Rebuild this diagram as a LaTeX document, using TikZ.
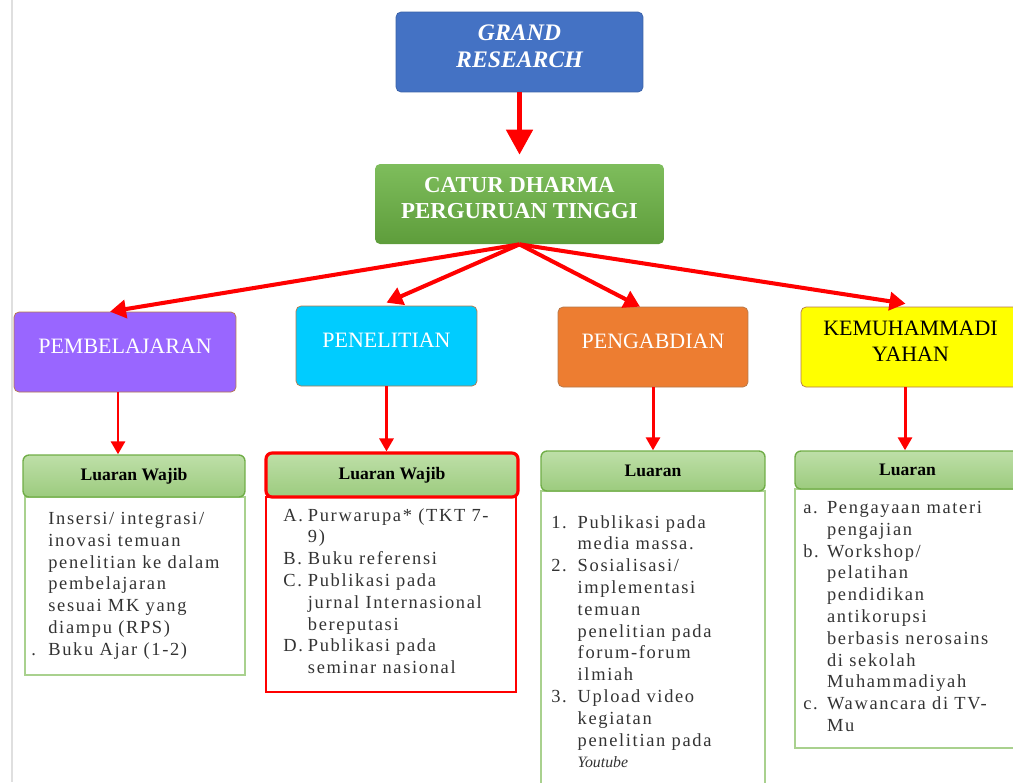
\documentclass[tikz,border=0pt]{standalone}
\usepackage{fontspec}
\setmainfont{Liberation Serif}
\newfontfamily\spacedfont[LetterSpace=9]{Liberation Serif}
\usetikzlibrary{arrows.meta,calc,positioning}
\definecolor{grandblue}{HTML}{4472C4}
\definecolor{caturtop}{HTML}{7EBD5C}
\definecolor{caturbot}{HTML}{5E9D3B}
\definecolor{pembcol}{HTML}{9966FF}
\definecolor{penecol}{HTML}{00CCFF}
\definecolor{pengcol}{HTML}{ED7D31}
\definecolor{kemucol}{HTML}{FFFF00}
\definecolor{edgebrown}{HTML}{B4784A}
\definecolor{headtop}{HTML}{BEDFA8}
\definecolor{headbot}{HTML}{9CCB7E}
\definecolor{headline}{HTML}{70AD47}
\definecolor{bodyline}{HTML}{A9D18E}
\definecolor{arrowred}{HTML}{FF0000}
\newcommand{\itemlbl}[2]{\makebox[#1][l]{#2}}
\tikzset{
	topbox/.style={rounded corners=0.1cm, minimum height=1.6cm, align=center, text depth=0.24cm,
			text=white, font=\fontsize{12.5}{15}\selectfont},
	headbox/.style={rounded corners=0.12cm, top color=headtop, bottom color=headbot,
			draw=headline, line width=0.8pt, font=\fontsize{10}{12}\selectfont\bfseries},
	bodybox/.style={draw=bodyline, line width=1.2pt, fill=white},
	bodytext/.style={anchor=north west, inner sep=0pt, align=left, text=black!80,
			font=\spacedfont\fontsize{10.5}{12.4}\selectfont},
	bigarrow/.style={draw=arrowred, line width=2.8pt, -{Triangle[length=0.5cm,width=0.52cm]}},
	redarrow/.style={draw=arrowred, line width=2.3pt, -{Triangle[length=0.32cm,width=0.36cm]}},
	downarrow/.style={draw=arrowred, line width=1.7pt, -{Triangle[length=0.26cm,width=0.28cm]}}
}
\begin{document}
\begin{tikzpicture}[x=0.02cm,y=-0.02cm]
	\useasboundingbox (0,0) rectangle (1013,782);
	\clip (0,0) rectangle (1013,782);
	\draw[gray!25, line width=1.2pt] (12,0) -- (12,782);

	%--- Top level ---
	\node[topbox, fill=grandblue, draw=grandblue!85!black, minimum width=4.94cm,
		font=\fontsize{13.5}{15.5}\selectfont\bfseries\itshape] (grand) at (519.5,52) {GRAND\\RESEARCH};
	\node[topbox, top color=caturtop, bottom color=caturbot, minimum width=5.78cm,
		font=\fontsize{13}{15}\selectfont\bfseries] (catur) at (519.5,204) {CATUR DHARMA\\PERGURUAN TINGGI};
	\draw[bigarrow, shorten >=0.18cm] (grand) -- (catur);

	%--- Four dharma ---
	\node[topbox, fill=pembcol, draw=edgebrown, minimum width=4.44cm] (pemb) at (125,352) {PEMBELAJARAN};
	\node[topbox, fill=penecol, draw=edgebrown, minimum width=3.62cm] (pene) at (386.5,346) {PENELITIAN};
	\node[topbox, fill=pengcol, draw=edgebrown, minimum width=3.8cm] (peng) at (653,347) {PENGABDIAN};
	\node[topbox, fill=kemucol, draw=edgebrown, text=black, minimum width=4.38cm] (kemu) at (910.5,347) {KEMUHAMMADI\\YAHAN};

	\draw[redarrow] (catur.south) -- ([xshift=-0.3cm]pemb.north);
	\draw[redarrow] (catur.south) -- ([yshift=0.06cm]pene.north);
	\draw[redarrow] (catur.south) -- ([xshift=-0.26cm]peng.north);
	\draw[redarrow] (catur.south) -- ([xshift=-0.1cm,yshift=0.06cm]kemu.north);

	%--- Luaran boxes ---
	\node[bodybox, minimum width=4.4cm, minimum height=3.56cm] (bodyA) at (135,586) {};
	\node[headbox, minimum width=4.44cm, minimum height=0.84cm] (headA) at (134,476) {Luaran Wajib};
	\node[bodybox, draw=arrowred, line width=1.6pt, minimum width=5cm, minimum height=3.9cm] (bodyB) at (391,594.5) {};
	\node[headbox, draw=arrowred, line width=1.8pt, minimum width=5.04cm, minimum height=0.88cm] (headB) at (392,475) {Luaran Wajib};
	\node[bodybox, minimum width=4.48cm, minimum height=6.18cm] (bodyC) at (653,645.5) {};
	\node[headbox, minimum width=4.48cm, minimum height=0.8cm] (headC) at (653,471) {Luaran};
	\node[bodybox, minimum width=4.5cm, minimum height=5.18cm] (bodyD) at (907.5,618.5) {};
	\node[headbox, minimum width=4.5cm, minimum height=0.76cm] (headD) at (907.5,470) {Luaran};

	\draw[downarrow] ([xshift=-0.14cm]pemb.south) -- ([xshift=-0.14cm]pemb.south |- headA.north);
	\draw[downarrow] (pene.south) -- (pene.south |- headB.north);
	\draw[downarrow] (peng.south) -- (peng.south |- headC.north);
	\draw[downarrow] ([xshift=-0.11cm]kemu.south) -- ([xshift=-0.11cm]kemu.south |- headD.north);

	%--- Texts ---
	\node[bodytext] (textA) at (48,512) {Insersi/ integrasi/\\inovasi temuan\\penelitian ke dalam\\pembelajaran\\
		sesuai MK yang\\diampu (RPS)\\\llap{.\hspace{7pt}}Buku Ajar (1-2)};
	\node[bodytext] (textB) at (283,508) {\itemlbl{14pt}{A.}Purwarupa* (TKT 7-\\\itemlbl{14pt}{}9)\\
		\itemlbl{14pt}{B.}Buku referensi\\\itemlbl{14pt}{C.}Publikasi pada\\\itemlbl{14pt}{}jurnal Internasional\\
		\itemlbl{14pt}{}bereputasi\\\itemlbl{14pt}{D.}Publikasi pada\\\itemlbl{14pt}{}seminar nasional};
	\node[bodytext] (textC) at (551,515) {\itemlbl{15pt}{1.}Publikasi pada\\\itemlbl{15pt}{}media massa.\\
		\itemlbl{15pt}{2.}Sosialisasi/\\\itemlbl{15pt}{}implementasi\\\itemlbl{15pt}{}temuan\\
		\itemlbl{15pt}{}penelitian pada\\\itemlbl{15pt}{}forum-forum\\\itemlbl{15pt}{}ilmiah\\
		\itemlbl{15pt}{3.}Upload video\\\itemlbl{15pt}{}kegiatan\\\itemlbl{15pt}{}penelitian pada\\
		\itemlbl{15pt}{}{\normalfont\fontsize{9}{12.4}\selectfont\itshape Youtube}};
	\node[bodytext] (textD) at (803,501) {\itemlbl{13.5pt}{a.}Pengayaan materi\\\itemlbl{13.5pt}{}pengajian\\
		\itemlbl{13.5pt}{b.}Workshop/\\\itemlbl{13.5pt}{}pelatihan\\\itemlbl{13.5pt}{}pendidikan\\
		\itemlbl{13.5pt}{}antikorupsi\\\itemlbl{13.5pt}{}berbasis nerosains\\\itemlbl{13.5pt}{}di sekolah\\
		\itemlbl{13.5pt}{}Muhammadiyah\\\itemlbl{13.5pt}{c.}Wawancara di TV-\\\itemlbl{13.5pt}{}Mu};
\end{tikzpicture}
\end{document}
